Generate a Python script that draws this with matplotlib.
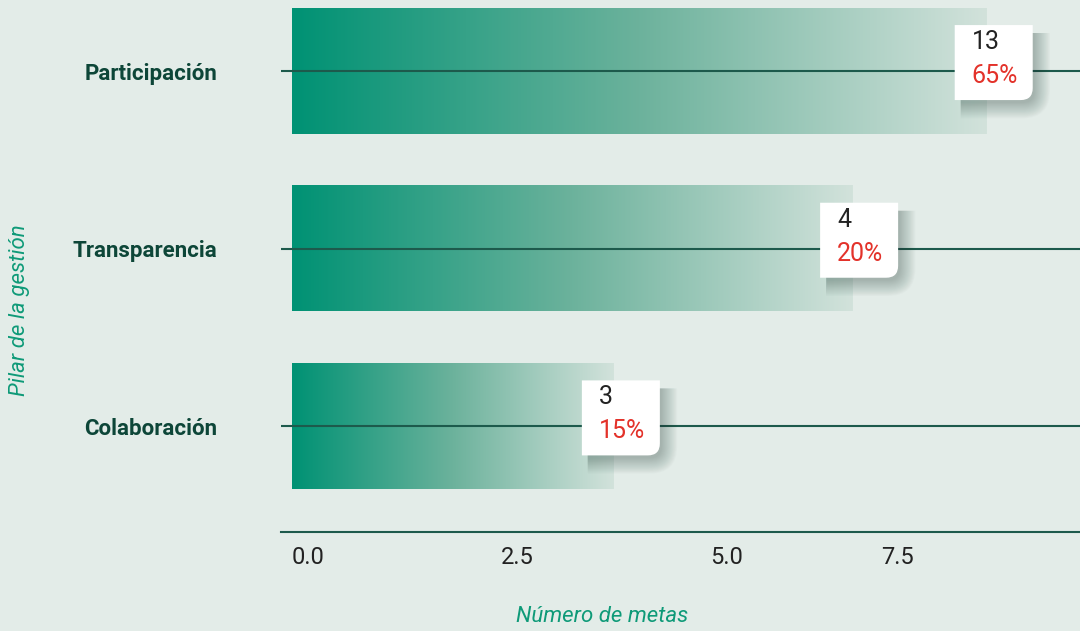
import matplotlib
matplotlib.use("Agg")
import matplotlib.pyplot as plt
import numpy as np
from matplotlib import font_manager, transforms
from matplotlib.path import Path
from matplotlib.patches import PathPatch

# ---------------- data ----------------
categories = ["Participación", "Transparencia", "Colaboración"]
bar_values = [8.31, 6.70, 3.85]          # bar lengths on the x axis
goal_counts = ["13", "4", "3"]
goal_shares = ["65%", "20%", "15%"]
x_ticks = [0.0, 2.5, 5.0, 7.5]
x_tick_labels = ["0.0", "2.5", "5.0", "7.5"]
x_label = "Número de metas"
y_label = "Pilar de la gestión"

# ---------------- style ----------------
names = {f.name for f in font_manager.fontManager.ttflist}
FONT = "Liberation Sans Narrow" if "Liberation Sans Narrow" in names else "Roboto"
plt.rcParams["font.family"] = [FONT, "DejaVu Sans"]

BG = "#e3ece8"
TEAL = "#0e9a78"
DARK = "#0d4638"
LINE = "#1d5a4c"
RED = "#e3322a"
stops = np.array([[0, 146, 116], [108, 178, 156], [210, 226, 219]]) / 255

W, H, DPI = 1080, 631, 100
fig = plt.figure(figsize=(W / DPI, H / DPI), dpi=DPI, facecolor=BG)
ax = fig.add_axes([281 / W, (H - 532) / H, 1 - 281 / W, 532 / H])
ax.set_facecolor(BG)

px_per_unit = 83.6
XLIM = (-11 / px_per_unit, (1080 - 292) / px_per_unit)
YLIM = (2 + 105.5 / 177.5, -71 / 177.5)

ypos = np.arange(len(categories))
bar_h = 0.704

# gradient bars
n = 256
t = np.linspace(0, 1, n)
grad = np.stack([np.interp(t, [0, 0.5, 1], stops[:, c]) for c in range(3)], axis=1)[None, :, :]
for y, v in zip(ypos, bar_values):
    ax.imshow(grad, extent=[0, v, y + bar_h / 2, y - bar_h / 2], aspect="auto",
              interpolation="bilinear", zorder=1)
ax.set_aspect("auto")
ax.set_xlim(*XLIM)
ax.set_ylim(*YLIM)

# category lines
for y in ypos:
    ax.axhline(y, color=LINE, lw=1.5, zorder=2)

# spines / ticks
for s in ["top", "right", "left"]:
    ax.spines[s].set_visible(False)
ax.spines["bottom"].set_color(LINE)
ax.spines["bottom"].set_linewidth(1.5)
ax.set_yticks(ypos)
ax.set_yticklabels(categories, fontsize=16, fontweight="bold", color=DARK)
ax.tick_params(axis="y", length=0, pad=46)
ax.set_xticks(x_ticks)
ax.set_xticklabels(x_tick_labels, fontsize=17, color="#222222")
ax.tick_params(axis="x", length=0, pad=10)
for i, lab in enumerate(ax.get_xticklabels()):
    if i == len(x_ticks) - 1:
        lab.set_horizontalalignment("right")
        lab.set_transform(lab.get_transform() + transforms.Affine2D().translate(-5, 0))
    else:
        lab.set_horizontalalignment("left")

fig.text(602 / W, 1 - 616 / H, x_label, fontsize=16, style="italic", color=TEAL,
         ha="center", va="center")
fig.text(20 / W, 1 - 310 / H, y_label, rotation=90, fontsize=16, style="italic",
         color=TEAL, ha="center", va="center")

# value boxes (pixel-offset shapes anchored at bar end)
def box_path(L, R, B, T, r):
    verts = [(L, B), (R - r, B), (R, B), (R, B + r), (R, T), (L, T), (L, B)]
    codes = [Path.MOVETO, Path.LINETO, Path.CURVE3, Path.CURVE3, Path.LINETO,
             Path.LINETO, Path.CLOSEPOLY]
    return Path(verts, codes)

L, R, B, T = -32, 46, -29, 46
for y, v, cnt, share in zip(ypos, bar_values, goal_counts, goal_shares):
    base = transforms.ScaledTranslation(v, y, ax.transData)
    tr = transforms.Affine2D() + base
    # soft shadow
    for k in range(18):
        e = k * 0.9
        sp = box_path(L + 6, R + 2 + e, B - 3 - e, T - 8, 12 + e)
        ax.add_patch(PathPatch(sp, transform=tr, facecolor="#2c4a42", edgecolor="none",
                               alpha=0.02, zorder=3, clip_on=False))
    ax.add_patch(PathPatch(box_path(L, R, B, T, 12), transform=tr, facecolor="white",
                           edgecolor="none", zorder=4, clip_on=False))
    ax.text(L + 17, 29, cnt, transform=transforms.Affine2D() + base, fontsize=18,
            color="#222222", ha="left", va="center", zorder=5)
    ax.text(L + 17, -5, share, transform=transforms.Affine2D() + base, fontsize=18,
            color=RED, ha="left", va="center", zorder=5)

fig.savefig("out.png", dpi=DPI, facecolor=BG)
